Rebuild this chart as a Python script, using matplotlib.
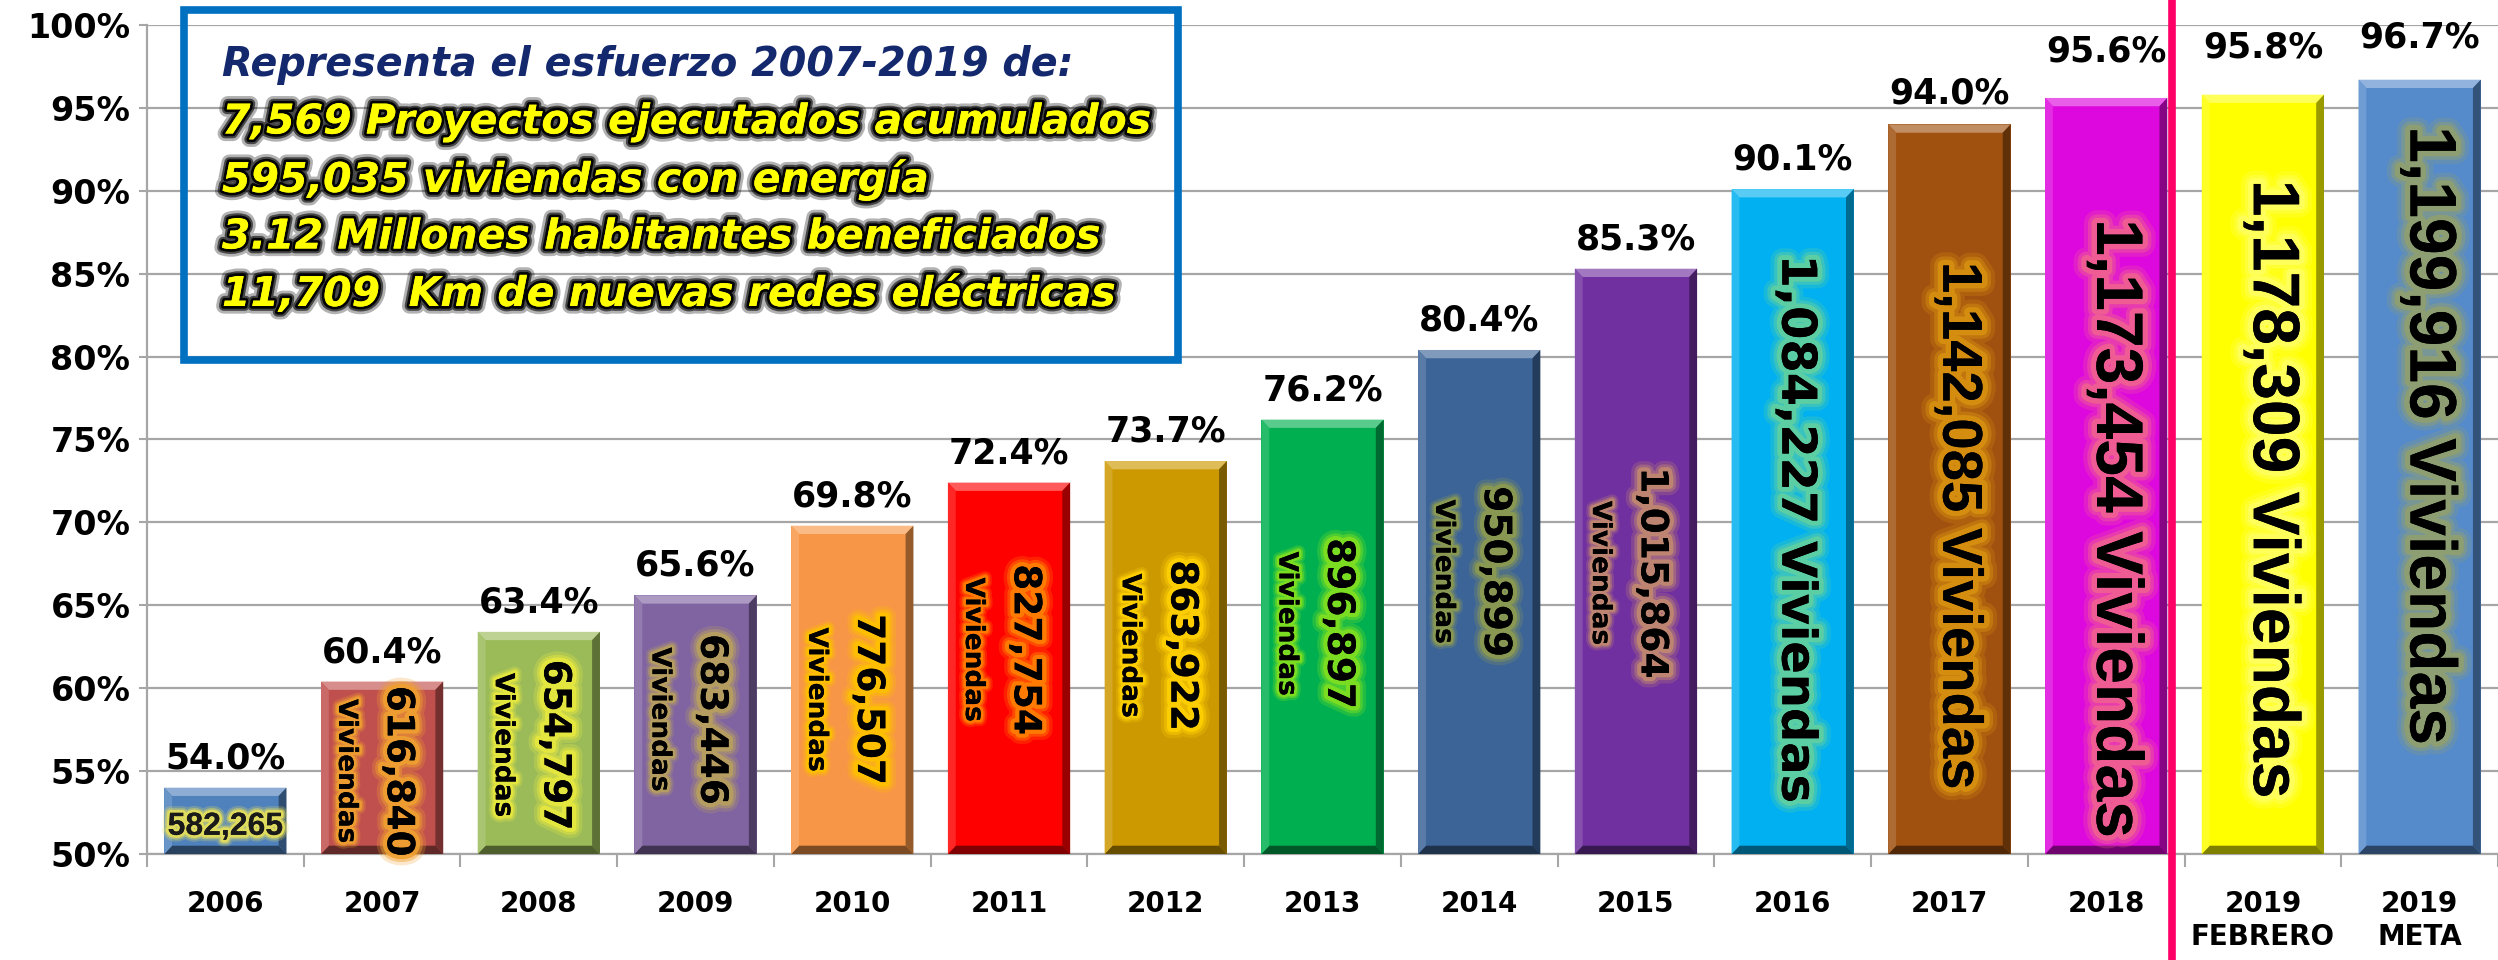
import matplotlib
matplotlib.use("Agg")
import matplotlib.pyplot as plt
import matplotlib.patheffects as pe
import matplotlib.colors as mcolors
from matplotlib.patches import Polygon, Rectangle
from matplotlib.transforms import blended_transform_factory

# datos
anios = ["2006", "2007", "2008", "2009", "2010", "2011", "2012", "2013", "2014",
         "2015", "2016", "2017", "2018", "2019\nFEBRERO", "2019\nMETA"]
cobertura = [54.0, 60.4, 63.4, 65.6, 69.8, 72.4, 73.7, 76.2, 80.4, 85.3, 90.1,
             94.0, 95.6, 95.8, 96.7]
viviendas = [582265, 616840, 654797, 683446, 776507, 827754, 863922, 896897,
             950899, 1015864, 1084227, 1142085, 1173454, 1178309, 1199916]
resumen = ["Representa el esfuerzo 2007-2019 de:",
           "7,569 Proyectos ejecutados acumulados",
           "595,035 viviendas con energía",
           "3.12 Millones habitantes beneficiados",
           "11,709  Km de nuevas redes eléctricas"]

# estilo
colores = ["#4F81BD", "#C0504D", "#9BBB59", "#8064A2", "#F79646", "#FF0000",
           "#CC9900", "#00B050", "#3C6497", "#7030A0", "#00B0F0", "#A0500F",
           "#DD08DD", "#FFFF00", "#558ACB"]
brillo = ["#E6E05A", "#F0A030", "#E8E840", "#B8A060", "#FFC000", "#FF8000",
          "#FFD000", "#80E020", "#8C9A50", "#C08870", "#60D0A0", "#D89010",
          "#F06090", "#FFFF60", "#90A070"]
# altura relativa del texto dentro de cada barra
pos_txt = [0.41, 0.48, 0.49, 0.52, 0.47, 0.55, 0.53, 0.53, 0.56, 0.48, 0.49,
           0.45, 0.43, 0.48, 0.54]
pad_pct = [9, 9, 9, 9, 9, 9, 9, 9, 9, 9, 9, 10, 21, 22, 18]

ANCHA = ["DejaVu Sans"]
ANGOSTA = ["Liberation Sans", "DejaVu Sans"]
BASE = 50


def mezcla(c, otro, t):
    a = mcolors.to_rgb(c)
    b = mcolors.to_rgb(otro)
    return tuple(a[i] * (1 - t) + b[i] * t for i in range(3))


def glow(c, lw=7):
    # brillo difuso en capas
    return [pe.withStroke(linewidth=lw * 1.9, foreground=c, alpha=0.25),
            pe.withStroke(linewidth=lw * 1.3, foreground=c, alpha=0.45),
            pe.withStroke(linewidth=lw * 0.8, foreground=c, alpha=0.9),
            pe.Normal()]


fig = plt.figure(figsize=(24.98, 9.6), dpi=100)
ax = fig.add_axes([147 / 2498, 1 - 854 / 960, 1 - 147 / 2498, (854 - 25) / 960])

x = list(range(len(anios)))
alturas = [c - BASE for c in cobertura]
barras = ax.bar(x, alturas, bottom=BASE, width=0.78, color=colores, zorder=3)

# bisel tipo Excel
bx, by = 0.05, 0.5
for b, col in zip(barras, colores):
    x0, y0 = b.get_x(), b.get_y()
    x1, y1 = x0 + b.get_width(), y0 + b.get_height()
    caras = [
        ([(x0, y1), (x1, y1), (x1 - bx, y1 - by), (x0 + bx, y1 - by)], mezcla(col, "white", 0.35)),
        ([(x1, y1), (x1, y0), (x1 - bx, y0 + by), (x1 - bx, y1 - by)], mezcla(col, "black", 0.4)),
        ([(x0, y0), (x1, y0), (x1 - bx, y0 + by), (x0 + bx, y0 + by)], mezcla(col, "black", 0.5)),
        ([(x0, y0), (x0, y1), (x0 + bx, y1 - by), (x0 + bx, y0 + by)], mezcla(col, "white", 0.15)),
    ]
    for pts, c in caras:
        ax.add_patch(Polygon(pts, closed=True, fc=c, ec="none", zorder=4))

# porcentajes arriba
for i, (xi, c) in enumerate(zip(x, cobertura)):
    ax.annotate(f"{c:.1f}%", (xi, c), xytext=(0, pad_pct[i]), textcoords="offset points",
                ha="center", va="bottom", fontsize=25, fontweight="bold",
                family=ANCHA, zorder=6)

# textos dentro de las barras
for i, (xi, c, v) in enumerate(zip(x, cobertura, viviendas)):
    yc = BASE + (c - BASE) * pos_txt[i]
    num = f"{v:,}"
    if i == 0:
        ax.text(xi, yc, num, ha="center", va="center", fontsize=23, fontweight="bold",
                family=ANGOSTA, color="#1a1a1a", path_effects=glow(brillo[i], 5), zorder=6)
    elif i < 10:
        ax.text(xi - 0.23, yc, "Viviendas", ha="center", va="center", rotation=270,
                fontsize=19, fontweight="bold", family=ANCHA,
                path_effects=glow(brillo[i], 5), zorder=6)
        ax.text(xi + 0.1, yc, num, ha="center", va="center", rotation=270,
                fontsize=27, fontweight="bold", family=ANCHA,
                path_effects=glow(brillo[i], 8), zorder=6)
    elif i == 10:
        ax.text(xi + 0.02, yc, num + " Viviendas", ha="center", va="center", rotation=270,
                fontsize=34.5, fontweight="bold", family=ANCHA,
                path_effects=glow(brillo[i], 9), zorder=6)
    else:
        tam = 40.5 if i == 11 else 47.5
        ax.text(xi + 0.05, yc, num + " Viviendas", ha="center", va="center", rotation=270,
                fontsize=tam, fontweight="bold", family=ANGOSTA,
                path_effects=glow(brillo[i], 10), zorder=6)

# ejes
ax.set_xlim(-0.5, len(anios) - 0.5)
ax.set_ylim(50, 100)
ax.set_yticks(range(50, 101, 5))
ax.set_yticklabels([f"{t}%" for t in range(50, 101, 5)], fontsize=24, fontweight="bold")
ax.set_xticks(x)
ax.set_xticklabels(anios, fontsize=20, fontweight="bold", linespacing=1.2)
ax.set_xticks([k + 0.5 for k in range(-1, len(anios))], minor=True)
ax.tick_params(axis="x", which="major", length=0, pad=26)
ax.tick_params(axis="x", which="minor", length=9, width=1.5, color="#A6A6A6")
ax.tick_params(axis="y", length=6, width=1.5, color="#A6A6A6", pad=6)
ax.grid(axis="y", color="#A6A6A6", linewidth=1.6, zorder=0)
ax.set_axisbelow(True)
for s in ["top", "right"]:
    ax.spines[s].set_visible(False)
for s in ["left", "bottom"]:
    ax.spines[s].set_color("#A6A6A6")
    ax.spines[s].set_linewidth(1.6)

# linea divisoria 2018 / 2019
trans = blended_transform_factory(ax.transData, fig.transFigure)
ax.plot([12.42, 12.42], [0, 1], transform=trans, color="#FF0066", linewidth=5.5,
        clip_on=False, zorder=7)

# cuadro de resumen
fig.patches.append(Rectangle((184 / 2498, 1 - 360 / 960), (1178 - 184) / 2498, 350 / 960,
                             transform=fig.transFigure, fill=False, ec="#0070C0",
                             linewidth=5.5, zorder=8))
sombra = [pe.withStroke(linewidth=11, foreground="black", alpha=0.3),
          pe.withStroke(linewidth=7, foreground="black", alpha=0.6),
          pe.withStroke(linewidth=4, foreground="black", alpha=0.95),
          pe.Normal()]
y_lin = 1 - 65 / 960
for k, linea in enumerate(resumen):
    if k == 0:
        fig.text(222 / 2498, y_lin, linea, ha="left", va="center", fontsize=28.5,
                 fontweight="bold", style="italic", color="#14286E", zorder=9)
    else:
        fig.text(222 / 2498, y_lin, linea, ha="left", va="center", fontsize=29.5,
                 fontweight="bold", style="italic", color="#FFFF00", zorder=9,
                 path_effects=sombra)
    y_lin -= 57.5 / 960

fig.savefig("out.png", dpi=100)
